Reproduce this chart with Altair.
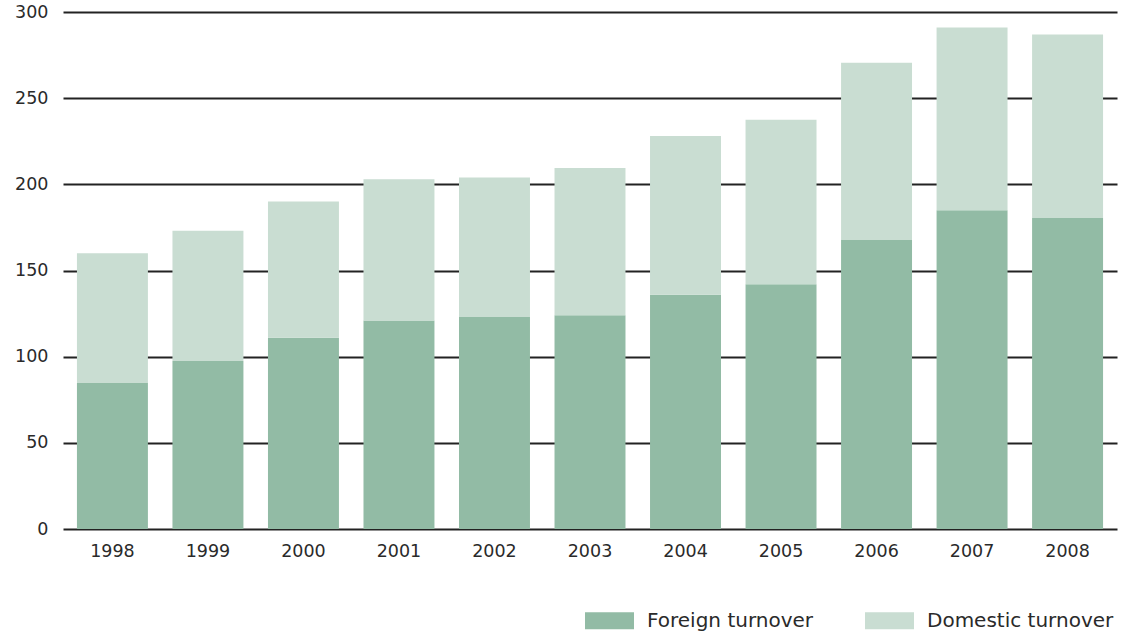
import altair as alt
import pandas as pd

years = ["1998", "1999", "2000", "2001", "2002", "2003", "2004", "2005", "2006", "2007", "2008"]
foreign = [85, 97.5, 111, 121, 123, 124, 136, 142, 168, 185, 180.5]
totals = [160, 173, 190, 203, 204, 209.5, 228, 237.5, 270.5, 291, 287]
domestic = [t - f for t, f in zip(totals, foreign)]

series = ["Foreign turnover", "Domestic turnover"]
colors = ["#92bba5", "#c9ddd2"]

rows = []
for y, f, d in zip(years, foreign, domestic):
    rows.append({"year": y, "series": series[0], "value": f, "ord": 0})
    rows.append({"year": y, "series": series[1], "value": d, "ord": 1})
df = pd.DataFrame(rows)

FONT = "DejaVu Sans"

chart = alt.Chart(df).mark_bar().encode(
    x=alt.X("year:N", sort=years, title=None,
            scale=alt.Scale(paddingInner=0.257, paddingOuter=0.146),
            axis=alt.Axis(labelAngle=0, domain=False, ticks=False, labelPadding=13,
                          labelFont=FONT, labelFontSize=17.5, labelColor="#2a2a2a")),
    y=alt.Y("value:Q", stack="zero", title=None,
            scale=alt.Scale(domain=[0, 300], nice=False),
            axis=alt.Axis(values=[0, 50, 100, 150, 200, 250, 300], domain=False, ticks=False,
                          labelPadding=15, labelFont=FONT, labelFontSize=17.5,
                          labelColor="#2a2a2a", grid=True, gridColor="#222", gridWidth=1.8,
                          gridOpacity=1)),
    color=alt.Color("series:N", sort=series,
                    scale=alt.Scale(domain=series, range=colors),
                    legend=alt.Legend(title=None, orient="none", direction="horizontal",
                                      legendX=522, legendY=584,
                                      symbolType="M-1,-0.347H1V0.347H-1Z", symbolSize=2401,
                                      symbolStrokeWidth=0, symbolOpacity=1,
                                      labelFont=FONT, labelFontSize=20,
                                      labelColor="#2a2a2a", labelOffset=13, columnPadding=51,
                                      labelLimit=300)),
    order=alt.Order("ord:Q", sort="ascending"),
).properties(
    width=1054, height=517,
    autosize=alt.AutoSizeParams(type="none"),
    padding={"left": 63, "top": 12, "right": 10, "bottom": 105},
).configure_view(stroke=None).configure_axis(gridCap="butt")

chart.save("out.html", embed_options={"renderer": "svg", "actions": False})
